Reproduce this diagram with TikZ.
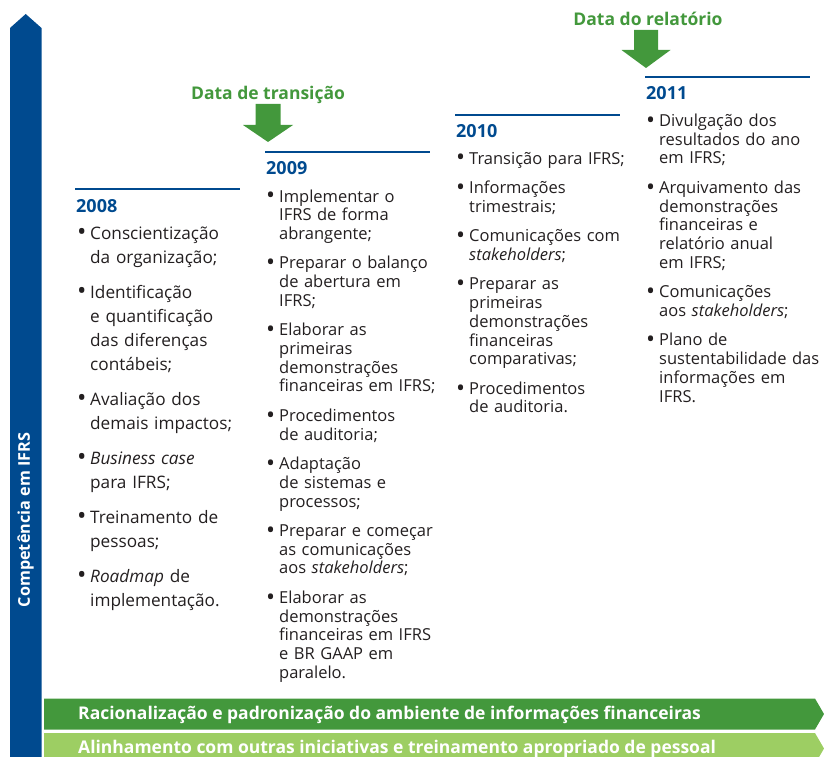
\documentclass[tikz,border=0pt]{standalone}
\usepackage{fontspec}
\setmainfont{Open Sans}
\usetikzlibrary{positioning}
\definecolor{ifrsblue}{RGB}{0,74,143}
\definecolor{ifrsgreen}{RGB}{67,152,60}
\definecolor{ifrslightgreen}{RGB}{157,206,99}
\definecolor{ifrstext}{RGB}{35,31,32}
\tikzstyle{yearline} = [draw=ifrsblue, line width=2.6pt]
\tikzstyle{year} = [anchor=base west, inner sep=0pt, text=ifrsblue, font=\bfseries\fontsize{18}{20}\selectfont]
\tikzstyle{itemlist} = [anchor=base west, inner sep=0pt, text width=175pt, align=left, text=ifrstext, font=\fontsize{16.5}{18.7}\selectfont, execute at begin node={\setlength{\parskip}{10.8pt}}]
\tikzstyle{datelabel} = [anchor=base, inner sep=0pt, text=ifrsgreen, font=\bfseries\fontsize{17.5}{19}\selectfont]
\tikzstyle{sidelabel} = [inner sep=0pt, text=white, font=\bfseries\fontsize{16.2}{18}\selectfont]
\tikzstyle{bartext} = [anchor=base west, inner sep=0pt, text=white, font=\bfseries\fontsize{17.5}{19}\selectfont]
\newcommand{\bitem}[1]{\noindent\hangindent=13pt\hangafter=1\makebox[13pt][l]{\raisebox{-1.8pt}{\scalebox{1.45}{\textbullet}}}{\let\\\newline #1}\par}

\begin{document}
\begin{tikzpicture}[x=1pt,y=1pt]
\useasboundingbox (0,0) rectangle (824,-757);

% Competence arrow
\fill[ifrsblue] (10,-757) -- (10,-28) -- (25.7,-14) -- (41.5,-28) -- (41.5,-757) -- cycle;
\node (comp) [sidelabel, rotate=90] at (25.7,-520) {Competência em IFRS};

% Year rules
\coordinate (r08) at (75,-189);
\coordinate (r09) at (265,-152);
\coordinate (r10) at (455,-115);
\coordinate (r11) at (645,-77);
\draw[yearline] (r08) -- ++(165,0);
\draw[yearline] (r09) -- ++(165,0);
\draw[yearline] (r10) -- ++(165,0);
\draw[yearline] (r11) -- ++(165,0);

% Years
\node (y08) [year] at ([xshift=1pt,yshift=-23.5pt]r08) {2008};
\node (y09) [year] at ([xshift=1pt,yshift=-22.5pt]r09) {2009};
\node (y10) [year] at ([xshift=1pt,yshift=-22.5pt]r10) {2010};
\node (y11) [year] at ([xshift=1pt,yshift=-22.5pt]r11) {2011};

% Activities per year
\node (l08) [itemlist, font=\fontsize{17.2}{24}\selectfont, execute at begin node={\setlength{\parskip}{11pt}}] at ([xshift=1pt,yshift=-26.5pt]y08.base west) {
\bitem{Conscientização\\da organização;}
\bitem{Identificação\\e quantificação\\das diferenças\\contábeis;}
\bitem{Avaliação dos\\demais impactos;}
\bitem{\textit{Business case}\\para IFRS;}
\bitem{Treinamento de\\pessoas;}
\bitem{\textit{Roadmap} de\\implementação.}};
\node (l09) [itemlist] at ([yshift=-27.5pt]y09.base west) {
\bitem{Implementar o\\IFRS de forma\\abrangente;}
\bitem{Preparar o balanço\\de abertura em\\IFRS;}
\bitem{Elaborar as\\primeiras\\demonstrações\\financeiras em IFRS;}
\bitem{Procedimentos\\de auditoria;}
\bitem{Adaptação\\de sistemas e\\processos;}
\bitem{Preparar e começar\\as comunicações\\aos \textit{stakeholders};}
\bitem{Elaborar as\\demonstrações\\financeiras em IFRS\\e BR GAAP em\\paralelo.}};
\node (l10) [itemlist] at ([yshift=-26.5pt]y10.base west) {
\bitem{Transição para IFRS;}
\bitem{Informações\\trimestrais;}
\bitem{Comunicações com\\\textit{stakeholders};}
\bitem{Preparar as\\primeiras\\demonstrações\\financeiras\\comparativas;}
\bitem{Procedimentos\\de auditoria.}};
\node (l11) [itemlist] at ([yshift=-27pt]y11.base west) {
\bitem{Divulgação dos\\resultados do ano\\em IFRS;}
\bitem{Arquivamento das\\demonstrações\\financeiras e\\relatório anual\\em IFRS;}
\bitem{Comunicações\\aos \textit{stakeholders};}
\bitem{Plano de\\sustentabilidade das\\informações em\\IFRS.}};

% Key dates
\node (trans) [datelabel] at (268,-100) {Data de transição};
\fill[ifrsgreen] ([xshift=-12.5pt,yshift=-4pt]trans.base) -- ++(25,0) -- ++(0,-21) -- ++(12.5,0) -- ++(-25,-17) -- ++(-25,17) -- ++(12.5,0) -- cycle;
\node (report) [datelabel] at (648,-26) {Data do relatório};
\fill[ifrsgreen] ([xshift=-14pt,yshift=-4pt]report.base) -- ++(24,0) -- ++(0,-20) -- ++(12.5,0) -- ++(-24.5,-18) -- ++(-24.5,18) -- ++(12.5,0) -- cycle;

% Bottom bars
\fill[ifrsgreen] (44,-698.5) -- (815,-698.5) -- (824,-714) -- (815,-729.5) -- (44,-729.5) -- cycle;
\node (bar1) [bartext] at (78,-719.5) {Racionalização e padronização do ambiente de informações financeiras};
\fill[ifrslightgreen] (44,-733) -- (815,-733) -- (824,-748.5) -- (815,-764) -- (44,-764) -- cycle;
\node (bar2) [bartext] at (78,-753.5) {Alinhamento com outras iniciativas e treinamento apropriado de pessoal};
\end{tikzpicture}
\end{document}
